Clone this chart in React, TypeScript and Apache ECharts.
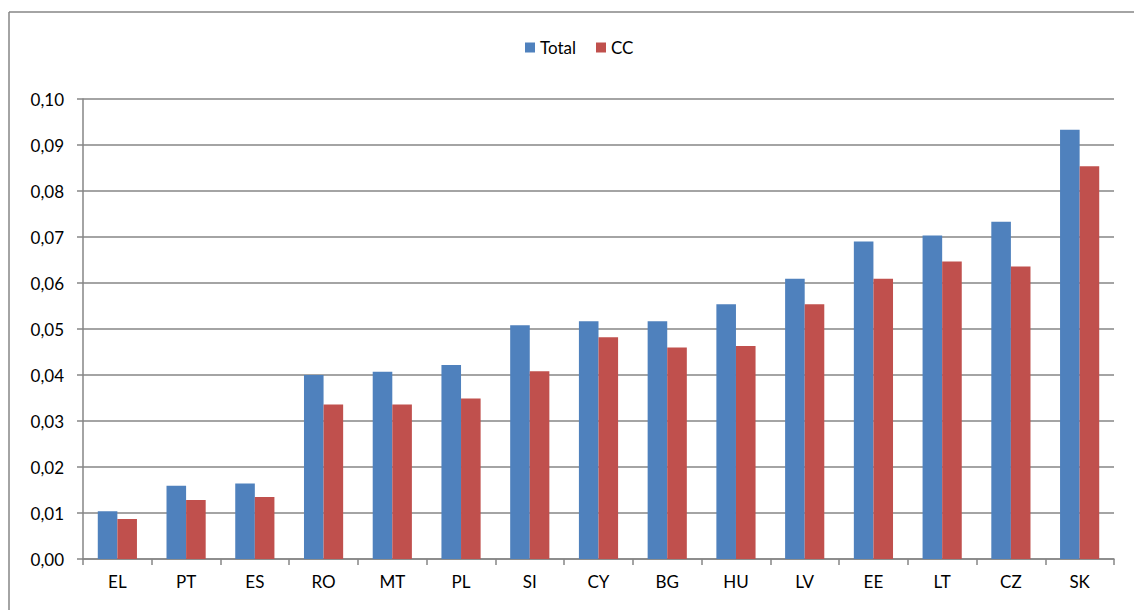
import React, { useEffect, useRef } from "react";
import * as echarts from "echarts";

const categories = ["EL", "PT", "ES", "RO", "MT", "PL", "SI", "CY", "BG", "HU", "LV", "EE", "LT", "CZ", "SK"];
const totalValues = [0.0104, 0.0159, 0.0164, 0.04, 0.0407, 0.0422, 0.0508, 0.0517, 0.0517, 0.0554, 0.0609, 0.069, 0.0703, 0.0733, 0.0933];
const ccValues = [0.0087, 0.0128, 0.0135, 0.0336, 0.0336, 0.0349, 0.0408, 0.0482, 0.046, 0.0463, 0.0554, 0.0609, 0.0647, 0.0636, 0.0854];
const seriesNames = ["Total", "CC"];

const FONT = "Lato, 'Open Sans', sans-serif";
const GRID_COLOR = "#868686";

export default function App() {
  const ref = useRef<HTMLDivElement>(null);
  useEffect(() => {
    if (!ref.current) return;
    const chart = echarts.init(ref.current, undefined, { renderer: "svg" });
    chart.setOption({
      animation: false,
      backgroundColor: "#ffffff",
      textStyle: { fontFamily: FONT },
      graphic: [
        {
          type: "line",
          shape: { x1: 9, y1: 12, x2: 1200, y2: 12 },
          style: { stroke: GRID_COLOR, lineWidth: 1.5 },
          silent: true,
        },
        {
          type: "line",
          shape: { x1: 9, y1: 12, x2: 9, y2: 700 },
          style: { stroke: GRID_COLOR, lineWidth: 1.5 },
          silent: true,
        },
      ],
      legend: {
        data: seriesNames,
        left: 520,
        top: 34,
        itemWidth: 10,
        itemHeight: 10,
        itemGap: 20,
        icon: "rect",
        textStyle: { fontFamily: FONT, fontSize: 17, color: "#000" },
      },
      grid: { left: 83, right: 20, top: 99, bottom: 51, containLabel: false },
      xAxis: {
        type: "category",
        data: categories,
        boundaryGap: true,
        axisLine: { show: true, lineStyle: { color: GRID_COLOR, width: 1.5 } },
        axisTick: { show: true, alignWithLabel: false, length: 6, lineStyle: { color: GRID_COLOR, width: 1.5 } },
        axisLabel: { margin: 14, fontFamily: FONT, fontSize: 17, color: "#000" },
        splitLine: { show: false },
      },
      yAxis: {
        type: "value",
        min: 0,
        max: 0.1,
        interval: 0.01,
        axisLine: { show: true, lineStyle: { color: GRID_COLOR, width: 1.5 } },
        axisTick: { show: true, length: 6, lineStyle: { color: GRID_COLOR, width: 1.5 } },
        axisLabel: {
          margin: 19,
          fontFamily: FONT,
          fontSize: 17,
          color: "#000",
          formatter: (v: number) => v.toFixed(2).replace(".", ","),
        },
        splitLine: { show: true, lineStyle: { color: GRID_COLOR, width: 1.5 } },
      },
      series: [
        {
          name: seriesNames[0],
          type: "bar",
          data: totalValues,
          barGap: "0%",
          barCategoryGap: "43%",
          itemStyle: { color: "#4F81BD" },
        },
        {
          name: seriesNames[1],
          type: "bar",
          data: ccValues,
          barGap: "0%",
          barCategoryGap: "43%",
          itemStyle: { color: "#C0504D" },
        },
      ],
    });
    return () => chart.dispose();
  }, []);
  return (
    <div
      ref={ref}
      style={{ position: "absolute", left: 0, top: 0, width: 1134, height: 610 }}
    />
  );
}
